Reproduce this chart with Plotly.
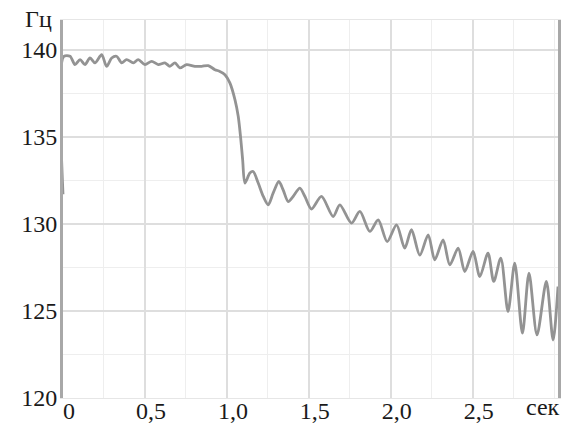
import plotly.graph_objects as go

# time (s) and frequency (Hz)
time_s = [0.0, 0.004, 0.043, 0.073, 0.104, 0.134, 0.165, 0.195, 0.236, 0.266,
          0.297, 0.327, 0.358, 0.388, 0.429, 0.459, 0.500, 0.541, 0.581, 0.622,
          0.652, 0.683, 0.713, 0.754, 0.805, 0.846, 0.886, 0.927, 0.957, 0.988,
          1.018, 1.049, 1.069, 1.083, 1.096, 1.110, 1.140, 1.160, 1.191, 1.222,
          1.252, 1.282, 1.317, 1.343, 1.374, 1.404, 1.445, 1.476, 1.516, 1.577,
          1.648, 1.689, 1.760, 1.811, 1.872, 1.923, 1.978, 2.035, 2.085, 2.126,
          2.177, 2.228, 2.268, 2.319, 2.360, 2.411, 2.451, 2.502, 2.543, 2.593,
          2.628, 2.671, 2.715, 2.756, 2.803, 2.843, 2.892, 2.949, 2.990, 3.020]
freq_hz = [131.7, 139.6, 139.62, 139.14, 139.43, 139.14, 139.52, 139.24, 139.71, 139.04,
           139.52, 139.62, 139.24, 139.43, 139.24, 139.43, 139.14, 139.33, 139.14, 139.24,
           139.04, 139.24, 138.95, 139.14, 139.04, 139.04, 139.08, 138.85, 138.75, 138.56,
           138.09, 137.13, 136.17, 135.02, 133.68, 132.34, 132.91, 133.0, 132.34, 131.57,
           131.09, 131.76, 132.43, 131.95, 131.28, 131.57, 132.05, 131.57, 130.85, 131.57,
           130.42, 131.09, 130.04, 130.71, 129.56, 130.23, 128.98, 129.94, 128.60, 129.66,
           128.2, 129.37, 127.93, 129.08, 127.64, 128.60, 127.26, 128.41, 126.97, 128.32,
           126.69, 128.03, 124.96, 127.74, 123.72, 127.17, 123.62, 126.69, 123.33, 126.40]

x_tickvals = [0, 0.5, 1.0, 1.5, 2.0, 2.5]
x_ticktext = ["0", "0,5", "1,0", "1,5", "2,0", "2,5"]
y_tickvals = [120, 125, 130, 135, 140]
y_ticktext = ["120", "125", "130", "135", "140"]

SERIF = "Liberation Serif"

def tfont():
    return dict(family=SERIF, size=24, color="#1a1a1a")

fig = go.Figure()
fig.add_trace(go.Scatter(
    x=time_s, y=freq_hz, mode="lines",
    line=dict(color="#939393", width=2.8, shape="spline", smoothing=0.8),
    hoverinfo="skip", showlegend=False,
))

fig.update_layout(
    width=572, height=424,
    margin=dict(l=63, r=14, t=20, b=26, autoexpand=False),
    paper_bgcolor="white", plot_bgcolor="white",
    font=tfont(),
    xaxis=dict(
        range=[0, 3.02], tickvals=x_tickvals, ticktext=x_ticktext,
        showgrid=True, gridcolor="#dedede", gridwidth=1.5,
        minor=dict(tick0=0, dtick=0.25, showgrid=True, gridcolor="#eeeeee", gridwidth=1),
        zeroline=False, showline=True, linecolor="#e6e6e6", linewidth=1, mirror=True,
        ticks="", automargin=False, tickfont=tfont(),
    ),
    yaxis=dict(
        range=[120, 141.7], tickvals=y_tickvals, ticktext=y_ticktext,
        showgrid=True, gridcolor="#dedede", gridwidth=1.5,
        minor=dict(tick0=120, dtick=2.5, showgrid=True, gridcolor="#eeeeee", gridwidth=1),
        zeroline=False, showline=True, linecolor="#a8a8a8", linewidth=3, mirror=True,
        ticks="", automargin=False, tickfont=tfont(),
    ),
    annotations=[
        dict(text="Гц", xref="paper", yref="paper", x=0, y=1, xanchor="right", yanchor="middle",
             xshift=-9, yshift=1, showarrow=False, font=tfont()),
        dict(text="сек", xref="x", yref="paper", x=2.93, y=0, xanchor="center", yanchor="top",
             yshift=6, showarrow=False, font=tfont()),
    ],
)
fig.update_xaxes(ticklabelshift=6, ticklabelstandoff=-9)
fig.update_yaxes(ticklabelstandoff=-2)

fig.write_html("out.html", config={"displayModeBar": False},
               post_script="document.body.style.margin='0px';")
